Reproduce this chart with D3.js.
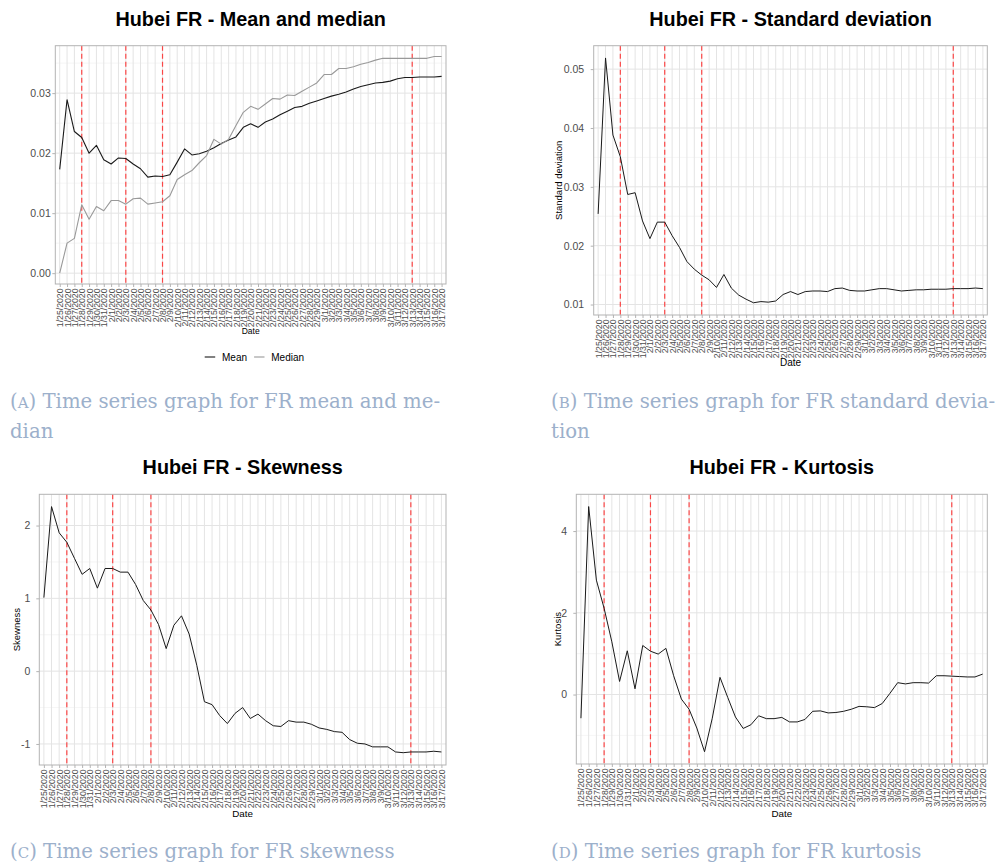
<!DOCTYPE html>
<html><head><meta charset="utf-8">
<script src="https://cdn.jsdelivr.net/npm/d3@7"></script>
<style>body{margin:0;background:#fff}svg{display:block}</style>
</head><body>
<svg id="c" width="997" height="864"></svg>
<script>
const dates = ["1/25/2020","1/26/2020","1/27/2020","1/28/2020","1/29/2020","1/30/2020","1/31/2020",
"2/1/2020","2/2/2020","2/3/2020","2/4/2020","2/5/2020","2/6/2020","2/7/2020","2/8/2020","2/9/2020","2/10/2020",
"2/11/2020","2/12/2020","2/13/2020","2/14/2020","2/15/2020","2/16/2020","2/17/2020","2/18/2020","2/19/2020","2/20/2020",
"2/21/2020","2/22/2020","2/23/2020","2/24/2020","2/25/2020","2/26/2020","2/27/2020","2/28/2020","2/29/2020",
"3/1/2020","3/2/2020","3/3/2020","3/4/2020","3/5/2020","3/6/2020","3/7/2020","3/8/2020","3/9/2020","3/10/2020",
"3/11/2020","3/12/2020","3/13/2020","3/14/2020","3/15/2020","3/16/2020","3/17/2020"];

const meanFR = [0.0173,0.0289,0.0236,0.0226,0.0200,0.0213,0.0189,0.0182,0.0192,0.0191,0.0182,0.0174,0.0160,0.0162,0.0161,0.0164,0.0185,0.0207,0.0197,0.0199,0.0203,0.0209,0.0216,0.0222,0.0227,0.0243,0.0249,0.0243,0.0252,0.0257,0.0264,0.0270,0.0276,0.0278,0.0283,0.0287,0.0291,0.0295,0.0298,0.0302,0.0307,0.0311,0.0314,0.0317,0.0318,0.0320,0.0324,0.0326,0.0326,0.0327,0.0327,0.0327,0.0328];
const medianFR = [0.0000,0.0050,0.0058,0.0114,0.0090,0.0111,0.0104,0.0121,0.0121,0.0115,0.0124,0.0125,0.0115,0.0117,0.0119,0.0129,0.0156,0.0164,0.0171,0.0184,0.0196,0.0223,0.0215,0.0223,0.0246,0.0268,0.0278,0.0273,0.0282,0.0291,0.0290,0.0297,0.0296,0.0303,0.0310,0.0317,0.0331,0.0331,0.0341,0.0341,0.0344,0.0348,0.0351,0.0355,0.0358,0.0358,0.0358,0.0358,0.0358,0.0358,0.0358,0.0361,0.0361];
const sdFR = [0.0254,0.0519,0.0388,0.0351,0.0287,0.0290,0.0242,0.0212,0.0240,0.0240,0.0217,0.0197,0.0173,0.0160,0.0150,0.0142,0.0129,0.0151,0.0128,0.0116,0.0109,0.0103,0.0105,0.0104,0.0106,0.0117,0.0122,0.0117,0.0122,0.0123,0.0123,0.0122,0.0127,0.0128,0.0124,0.0123,0.0123,0.0125,0.0127,0.0127,0.0125,0.0123,0.0124,0.0125,0.0125,0.0126,0.0126,0.0126,0.0127,0.0127,0.0127,0.0128,0.0127];
const skewFR = [1.01,2.26,1.90,1.77,1.55,1.33,1.41,1.14,1.41,1.41,1.36,1.36,1.19,0.97,0.84,0.64,0.31,0.63,0.76,0.51,0.08,-0.42,-0.46,-0.61,-0.72,-0.58,-0.50,-0.65,-0.59,-0.68,-0.75,-0.76,-0.68,-0.70,-0.70,-0.73,-0.78,-0.80,-0.83,-0.84,-0.94,-0.99,-1.00,-1.04,-1.04,-1.04,-1.11,-1.12,-1.11,-1.11,-1.11,-1.10,-1.11];
const kurtFR = [-0.58,4.60,2.80,2.11,1.29,0.32,1.07,0.14,1.20,1.06,0.99,1.13,0.46,-0.11,-0.36,-0.82,-1.40,-0.58,0.42,-0.07,-0.55,-0.83,-0.74,-0.52,-0.59,-0.59,-0.56,-0.67,-0.67,-0.61,-0.41,-0.40,-0.45,-0.44,-0.41,-0.36,-0.29,-0.30,-0.32,-0.22,0.03,0.29,0.26,0.29,0.29,0.28,0.46,0.46,0.45,0.44,0.43,0.43,0.50];

const eventDates = ["1/28/2020","2/3/2020","2/8/2020","3/13/2020"];

const ticksMean = [0, 0.01, 0.02, 0.03];
const tickLabelsMean = ["0.00","0.01","0.02","0.03"];
const ticksSd = [0.01, 0.02, 0.03, 0.04, 0.05];
const tickLabelsSd = ["0.01","0.02","0.03","0.04","0.05"];
const ticksSkew = [-1, 0, 1, 2];
const tickLabelsSkew = ["-1","0","1","2"];
const ticksKurt = [0, 2, 4];
const tickLabelsKurt = ["0","2","4"];

const legendLabels = ["Mean","Median"];
const titles = ["Hubei FR - Mean and median","Hubei FR - Standard deviation","Hubei FR - Skewness","Hubei FR - Kurtosis"];
const yTitles = [null, "Standard deviation", "Skewness", "Kurtosis"];
const captions = [
  ["A", ["Time series graph for FR mean and me-", "dian"]],
  ["B", ["Time series graph for FR standard devia-", "tion"]],
  ["C", ["Time series graph for FR skewness"]],
  ["D", ["Time series graph for FR kurtosis"]]
];

const svg = d3.select('#c');
const FONT = '"Liberation Sans", Arial, Helvetica, sans-serif';

function drawPanel(p) {
  const g = svg.append('g');
  const x = d3.scalePoint().domain(dates).range([p.left, p.right]).padding(0.6);
  const all = p.series.flatMap(s => s.values);
  const [lo, hi] = d3.extent(all);
  const ex = (hi - lo) * 0.05;
  const y = d3.scaleLinear().domain([lo - ex, hi + ex]).range([p.bottom, p.top]);
  const [d0, d1] = y.domain();
  const step = p.ticks[1] - p.ticks[0];
  const minor = [];
  for (let k = -1; k <= p.ticks.length; k++) {
    const v = p.ticks[0] + (k + 0.5) * step;
    if (v > d0 && v < d1) minor.push(v);
  }
  g.append('rect').attr('x', p.left).attr('y', p.top).attr('width', p.right - p.left).attr('height', p.bottom - p.top).attr('fill', '#fff');
  g.selectAll('.mn').data(minor).join('line')
    .attr('x1', p.left).attr('x2', p.right).attr('y1', d => y(d)).attr('y2', d => y(d))
    .attr('stroke', '#efefef').attr('stroke-width', 0.6);
  g.selectAll('.mj').data(p.ticks).join('line')
    .attr('x1', p.left).attr('x2', p.right).attr('y1', d => y(d)).attr('y2', d => y(d))
    .attr('stroke', '#e4e4e4').attr('stroke-width', 1);
  g.selectAll('.vx').data(dates).join('line')
    .attr('x1', d => x(d)).attr('x2', d => x(d)).attr('y1', p.top).attr('y2', p.bottom)
    .attr('stroke', '#e4e4e4').attr('stroke-width', 1);
  g.selectAll('.ev').data(eventDates).join('line')
    .attr('x1', d => x(d)).attr('x2', d => x(d)).attr('y1', p.top).attr('y2', p.bottom)
    .attr('stroke', '#ff2b2b').attr('stroke-width', 1.2).attr('stroke-dasharray', '5,3').attr('opacity', 0.85);
  const line = d3.line().x((d, i) => x(dates[i])).y(d => y(d));
  p.series.forEach(s => {
    g.append('path').datum(s.values).attr('d', line).attr('fill', 'none')
      .attr('stroke', s.color).attr('stroke-width', s.width).attr('stroke-linejoin', 'round');
  });
  g.append('rect').attr('x', p.left).attr('y', p.top).attr('width', p.right - p.left).attr('height', p.bottom - p.top)
    .attr('fill', 'none').attr('stroke', '#b3b3b3').attr('stroke-width', 1);

  const ya = g.append('g').attr('transform', `translate(${p.left},0)`)
    .call(d3.axisLeft(y).tickValues(p.ticks).tickFormat((d, i) => p.tickLabels[i]).tickSize(3).tickPadding(p.yPad));
  ya.select('.domain').remove();
  ya.selectAll('line').attr('stroke', '#b3b3b3');
  ya.selectAll('text').attr('fill', '#4d4d4d').style('font-size', '10.5px').style('font-family', FONT);

  const xa = g.append('g').attr('transform', `translate(0,${p.bottom})`)
    .call(d3.axisBottom(x).tickSize(3).tickPadding(0));
  xa.select('.domain').remove();
  xa.selectAll('line').attr('stroke', '#b3b3b3');
  xa.selectAll('text').attr('transform', 'rotate(-90)').attr('x', -4.5).attr('y', 0).attr('dy', '0.35em')
    .attr('text-anchor', 'end').attr('fill', '#4d4d4d').style('font-size', '8.7px').style('font-family', FONT);

  const cx = (p.left + p.right) / 2;
  svg.append('text').attr('x', cx).attr('y', p.titleY).attr('text-anchor', 'middle')
    .style('font-family', FONT).style('font-weight', 'bold').style('font-size', '19.8px').attr('fill', '#000').text(p.title);
  svg.append('text').attr('x', cx).attr('y', p.xTitleY).attr('text-anchor', 'middle')
    .style('font-family', FONT).style('font-size', p.xTitleSize + 'px').attr('fill', '#000').text('Date');
  if (p.yTitle) {
    svg.append('text').attr('transform', `translate(${p.yTitleX},${(p.top + p.bottom) / 2}) rotate(-90)`)
      .attr('text-anchor', 'middle').style('font-family', FONT).style('font-size', '9.5px').attr('fill', '#000').text(p.yTitle);
  }
  return {x, y};
}

drawPanel({left: 55.3, right: 446, top: 45.7, bottom: 284, titleY: 26, xTitleY: 334, xTitleSize: 8.5, yPad: 1.5,
  title: titles[0], yTitle: yTitles[0], ticks: ticksMean, tickLabels: tickLabelsMean,
  series: [{values: meanFR, color: '#1a1a1a', width: 1.1}, {values: medianFR, color: '#999999', width: 1.1}]});
drawPanel({left: 593.7, right: 987.3, top: 45.7, bottom: 315, titleY: 26, xTitleY: 366, xTitleSize: 10, yPad: 6.5,
  title: titles[1], yTitle: yTitles[1], yTitleX: 561.5, ticks: ticksSd, tickLabels: tickLabelsSd,
  series: [{values: sdFR, color: '#1a1a1a', width: 1}]});
drawPanel({left: 39.3, right: 446, top: 494.3, bottom: 765, titleY: 474, xTitleY: 816.5, xTitleSize: 9.8, yPad: 6,
  title: titles[2], yTitle: yTitles[2], yTitleX: 20, ticks: ticksSkew, tickLabels: tickLabelsSkew,
  series: [{values: skewFR, color: '#1a1a1a', width: 1}]});
drawPanel({left: 576.3, right: 987.3, top: 494.3, bottom: 764, titleY: 474, xTitleY: 816.5, xTitleSize: 9.8, yPad: 6.3,
  title: titles[3], yTitle: yTitles[3], yTitleX: 561, ticks: ticksKurt, tickLabels: tickLabelsKurt,
  series: [{values: kurtFR, color: '#1a1a1a', width: 1}]});

// legend for panel A
const legendColors = ['#1a1a1a', '#999999'];
const lg = svg.append('g').attr('transform', 'translate(204.7,357)');
const lgX = [0, 49.3];
legendLabels.forEach((lab, i) => {
  lg.append('line').attr('x1', lgX[i]).attr('x2', lgX[i] + 10.5).attr('y1', 0).attr('y2', 0)
    .attr('stroke', legendColors[i]).attr('stroke-width', 1.1);
  lg.append('text').attr('x', lgX[i] + 17.3).attr('y', 3.6).style('font-family', FONT).style('font-size', '10px')
    .attr('fill', '#000').text(lab);
});

// captions
const capPos = [[10, 408], [551, 408], [10, 858], [551, 858]];
captions.forEach((c, i) => {
  const [cx, cy] = capPos[i];
  c[1].forEach((ln, j) => {
    const t = svg.append('text').attr('x', cx).attr('y', cy + j * 29.5)
      .style('font-family', '"DejaVu Serif", serif').style('font-size', '19.7px').attr('fill', '#9cb0cb');
    if (j === 0) {
      t.append('tspan').text('(');
      t.append('tspan').style('font-size', '15px').text(c[0]);
      t.append('tspan').text(') ' + ln);
    } else {
      t.text(ln);
    }
  });
});
</script>
</body></html>
